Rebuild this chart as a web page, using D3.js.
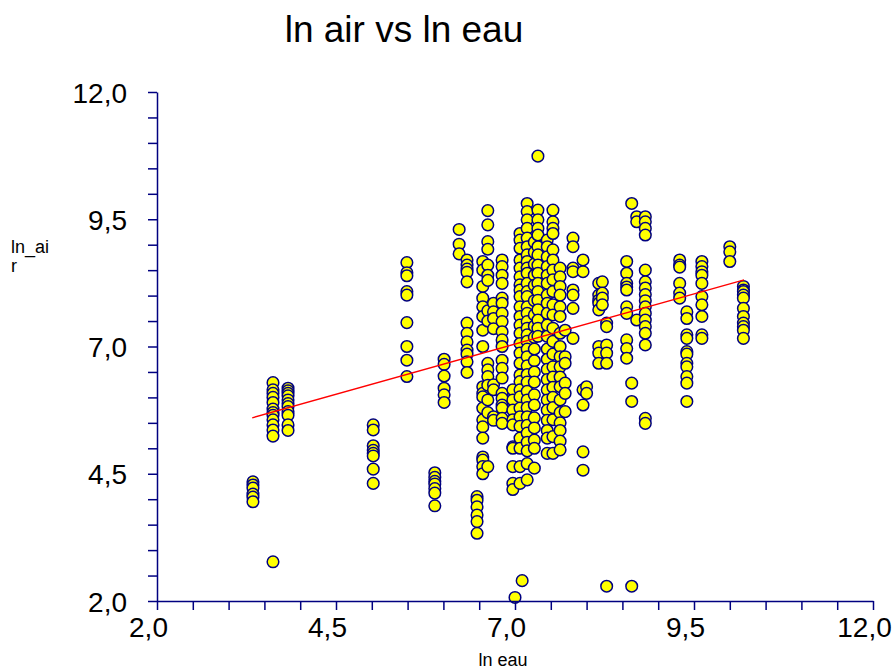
<!DOCTYPE html>
<html>
<head>
<meta charset="utf-8">
<script src="https://cdn.jsdelivr.net/npm/d3@7"></script>
<style>
  body { margin: 0; background: #fff; }
  svg { display: block; font-family: Arial, "Liberation Sans", sans-serif; }
</style>
</head>
<body>
<svg id="chart" width="895" height="669"></svg>
<script>
// ln eau value of each column of points
const eauCols = [3.34, 3.62, 3.83, 5.02, 5.49, 5.88, 6.01, 6.22, 6.33, 6.47, 6.55, 6.62, 6.70, 6.82,
  6.97, 7.0, 7.07, 7.10, 7.17, 7.27, 7.32, 7.45, 7.53, 7.63, 7.70, 7.81, 7.95, 8.00, 8.17, 8.22,
  8.28, 8.56, 8.63, 8.70, 8.82, 9.30, 9.40, 9.61, 10.0, 10.19];

// ln air values for each column (same order)
const airCols = [
  [4.34, 4.28, 4.22, 4.10, 4.04, 3.95],
  [6.29, 6.15, 6.08, 6.00, 5.90, 5.77, 5.70, 5.65, 5.56, 5.46, 5.36, 5.24, 2.77],
  [6.18, 6.13, 6.08, 6.03, 5.95, 5.88, 5.82, 5.72, 5.65, 5.46, 5.35],
  [5.46, 5.36, 5.05, 4.96, 4.90, 4.85, 4.59, 4.31],
  [8.65, 8.45, 8.39, 8.08, 8.01, 7.47, 7.00, 6.73, 6.41],
  [4.52, 4.43, 4.35, 4.30, 4.21, 4.12, 3.87],
  [6.75, 6.65, 6.42, 6.18, 6.05, 5.90],
  [9.30, 9.01, 8.82],
  [8.70, 8.60, 8.52, 8.46, 8.27, 7.46, 7.26, 7.09, 6.93, 6.85, 6.70, 6.49],
  [4.05, 3.98, 3.85, 3.69, 3.56, 3.33],
  [8.67, 8.50, 8.18, 7.95, 7.78, 7.59, 7.32, 7.00, 6.21, 6.08, 6.01, 5.79, 5.56, 5.42, 5.20, 4.83, 4.77, 4.64, 4.50],
  [9.67, 9.39, 9.06, 8.91, 8.60, 8.40, 8.30, 7.70, 7.50, 6.67, 6.54, 6.41, 6.24, 5.95, 5.70, 4.64],
  [7.85, 7.68, 7.55, 7.35, 6.25, 6.15, 5.62, 5.55],
  [8.70, 8.57, 8.40, 8.24, 7.95, 7.85, 7.65, 7.49, 7.29, 7.13, 7.00, 6.73, 6.57, 6.38, 6.08, 5.98, 5.85, 5.79, 5.59, 5.49],
  [6.15, 5.95, 5.75, 5.56, 5.46, 5.03, 5.00, 4.64, 4.31, 4.19],
  [2.07],
  [9.22, 9.09, 8.93, 8.70, 8.54, 8.37, 8.21, 8.11, 7.98, 7.78, 7.59, 7.42, 7.26, 7.06, 6.87, 6.67, 6.44, 6.31, 6.15, 6.01, 5.79, 5.62, 5.43, 5.20, 5.00, 4.64, 4.31],
  [2.40],
  [9.81, 9.65, 9.49, 9.32, 9.13, 8.96, 8.80, 8.67, 8.54, 8.44, 8.24, 8.08, 7.98, 7.78, 7.65, 7.49, 7.36, 7.23, 7.10, 6.95, 6.80, 6.62, 6.45, 6.30, 6.12, 5.95, 5.80, 5.62, 5.45, 5.30, 5.12, 4.95, 4.70, 4.38],
  [9.05, 8.85, 8.62, 8.40, 8.20, 7.90, 7.62, 7.40, 7.18, 6.95, 6.72, 6.50, 6.30, 6.05, 5.85, 5.60, 5.40, 5.16, 5.00, 4.61],
  [10.74, 9.68, 9.49, 9.32, 9.19, 8.96, 8.80, 8.60, 8.44, 8.24, 8.08, 7.91, 7.72, 7.52, 7.36, 7.20],
  [9.09, 8.96, 8.76, 8.57, 8.40, 8.24, 8.01, 7.85, 7.65, 7.42, 7.20, 6.95, 6.75, 6.55, 6.35, 6.15, 5.95, 5.75, 5.55, 5.35, 5.20, 4.90],
  [9.68, 9.45, 9.32, 9.22, 8.90, 8.70, 8.50, 8.31, 8.08, 7.82, 7.62, 7.36, 7.10, 6.85, 6.60, 6.40, 6.20, 6.00, 5.80, 5.56, 5.23, 4.90],
  [8.54, 8.37, 8.18, 8.01, 7.78, 7.59, 7.26, 7.00, 6.80, 6.60, 6.40, 6.21, 5.95, 5.70, 5.50, 5.35, 5.14, 4.97],
  [7.32, 6.80, 6.67, 6.28, 6.08, 5.72],
  [9.13, 8.96, 8.54, 8.47, 8.11, 8.01, 7.75, 7.16],
  [8.70, 8.47, 6.15, 5.85, 4.93, 4.57],
  [6.21, 6.08],
  [8.24, 8.01, 7.91, 7.85, 7.72, 7.00, 6.87, 6.67],
  [8.27, 8.05, 7.95, 7.82],
  [7.46, 7.39, 7.03, 6.87, 6.67, 2.29],
  [8.67, 8.44, 8.24, 8.17, 8.11, 7.78, 7.65, 7.13, 6.96, 6.77],
  [9.81, 6.28, 5.92, 2.29],
  [9.55, 9.45, 7.52],
  [9.55, 9.45, 9.32, 9.19, 8.50, 8.27, 8.15, 8.02, 7.90, 7.78, 7.65, 7.52, 7.39, 7.26, 7.03, 5.59, 5.49],
  [8.70, 8.60, 8.56, 8.24, 8.05, 7.95],
  [7.68, 7.55, 7.23, 7.16, 6.90, 6.85, 6.67, 6.60, 6.41, 6.28, 5.92],
  [8.67, 8.57, 8.47, 8.40, 8.24, 7.98, 7.82, 7.59, 7.23, 7.16],
  [8.96, 8.86, 8.67],
  [8.18, 8.11, 8.08, 8.01, 7.95, 7.75, 7.59, 7.46, 7.39, 7.32, 7.16]
];

// fitted line end points
const fitX = [3.33, 10.2];
const fitY = [5.60, 8.31];

const majorTicks = [2.0, 4.5, 7.0, 9.5, 12.0];

const svg = d3.select('#chart');
const navy = '#000080';

const x = d3.scaleLinear().domain([2, 12]).range([157, 873]);
const y = d3.scaleLinear().domain([2, 12]).range([601, 92]);

const fmt = v => majorTicks.some(m => Math.abs(m - v) < 1e-6) ? d3.format('.1f')(v).replace('.', ',') : '';
const allTicks = d3.range(2, 12.001, 0.5);

// points
const points = [];
eauCols.forEach((ex, i) => airCols[i].forEach(a => points.push({ eau: ex, air: a })));

svg.append('g').selectAll('circle')
    .data(points)
    .enter().append('circle')
    .attr('cx', d => x(d.eau))
    .attr('cy', d => y(d.air))
    .attr('r', 5.8)
    .attr('fill', '#ffff00')
    .attr('stroke', navy)
    .attr('stroke-width', 1.5);

// regression line
svg.append('line')
    .attr('x1', x(fitX[0])).attr('y1', y(fitY[0]))
    .attr('x2', x(fitX[1])).attr('y2', y(fitY[1]))
    .attr('stroke', '#ff0000')
    .attr('stroke-width', 1.3);

// axes
const yAxis = svg.append('g')
    .attr('transform', `translate(${x(2)},0)`)
    .call(d3.axisLeft(y).tickValues(allTicks).tickSize(9).tickSizeOuter(0).tickFormat(fmt));
const xAxis = svg.append('g')
    .attr('transform', `translate(0,${y(2)})`)
    .call(d3.axisBottom(x).tickValues(allTicks).tickSize(9).tickSizeOuter(0).tickFormat(fmt));

[xAxis, yAxis].forEach(g => {
    g.select('.domain').attr('stroke', navy).attr('stroke-width', 1.5);
    g.selectAll('.tick line').attr('stroke', navy).attr('stroke-width', 1.5);
    g.selectAll('.tick text')
        .attr('fill', '#000')
        .attr('font-size', '28px')
        .attr('font-family', 'Arial, "Liberation Sans", sans-serif');
});
yAxis.selectAll('.tick text').attr('x', -30).attr('dy', '0.36em');
xAxis.selectAll('.tick text').attr('dx', -9).attr('y', 16).attr('dy', '0.71em');

// title and axis titles
svg.append('text')
    .attr('x', 404).attr('y', 42)
    .attr('text-anchor', 'middle')
    .attr('font-size', '37px')
    .text('ln air vs ln eau');

svg.append('text')
    .attr('x', 503).attr('y', 666)
    .attr('text-anchor', 'middle')
    .attr('font-size', '18px')
    .text('ln eau');

svg.append('text').attr('x', 11).attr('y', 253).attr('font-size', '18px').text('ln_ai');
svg.append('text').attr('x', 11).attr('y', 272).attr('font-size', '18px').text('r');
</script>
</body>
</html>
